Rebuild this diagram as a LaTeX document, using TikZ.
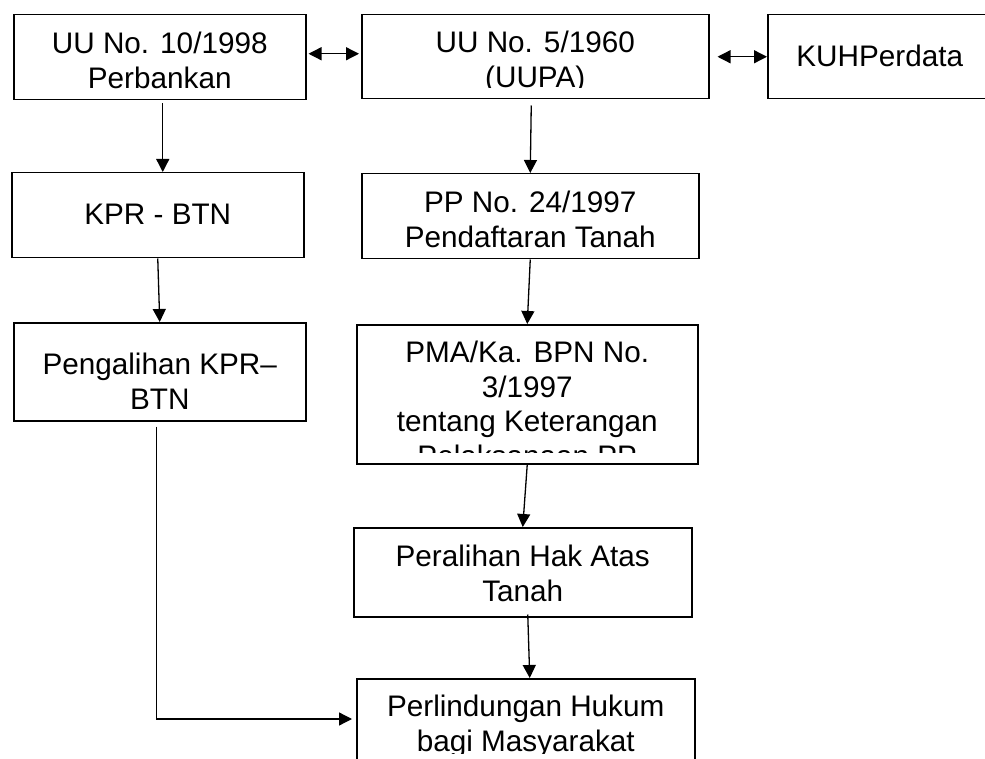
\documentclass[tikz,border=0pt]{standalone}
\usepackage{fontspec}
\setmainfont{Liberation Sans}
\usetikzlibrary{calc, arrows.meta}

\tikzset{
  >={Triangle[length=13pt, width=13pt]},
  lawbox/.style 2 args={draw, line width=1.5pt, inner sep=0pt, anchor=north west,
    minimum width=#1, minimum height=#2},
  boxtext/.style={align=center, anchor=base, inner sep=0pt,
    font=\fontsize{29.7}{34.5}\selectfont},
  link/.style={line width=1.3pt},
}

% text of a box (#3 = baseline of its last line below the top, #1 = shift right),
% cut off 11pt above the lower edge
\newcommand{\boxtext}[4][0]{%
  \clip ($(path picture bounding box.south west)+(0pt,11pt)$)
    rectangle (path picture bounding box.north east);
  \node[boxtext] (#2) at ($(path picture bounding box.north)+(#1pt,-#3pt)$) {#4};}

\begin{document}
\begin{tikzpicture}[x=1pt, y=-1pt]
  \useasboundingbox (0,0) rectangle (985,759);
  \clip (0,0) rectangle (985,759);

  \node[lawbox={292}{85}, path picture={\boxtext{uu10text}{73.5}{UU No. 10/1998\\Perbankan}}] (uu10) at (13,14) {};
  \node[lawbox={347}{84}, path picture={\boxtext{uu5text}{72.5}{UU No. 5/1960\\(UUPA)}}] (uu5) at (361,14) {};
  \node[lawbox={300}{84}, path picture={\boxtext[-38]{kuhtext}{52}{KUHPerdata}}] (kuh) at (767,14) {};

  \node[lawbox={292}{85}, path picture={\boxtext{kprtext}{52}{KPR - BTN}}] (kpr) at (11,172) {};
  \node[lawbox={337}{85}, path picture={\boxtext{pptext}{73.5}{PP No. 24/1997\\Pendaftaran Tanah}}] (pp) at (361,173) {};

  \node[lawbox={292}{98}, path picture={\boxtext{pengtext}{86.5}{Pengalihan KPR--\\BTN}}] (peng) at (13,322) {};
  \node[lawbox={341}{139}, path picture={\boxtext{pmatext}{141.5}{PMA/Ka. BPN No.\\3/1997\\tentang Keterangan\\Pelaksanaan PP}}] (pma) at (356,324) {};

  \node[lawbox={338}{89}, path picture={\boxtext{peraltext}{73.5}{Peralihan Hak Atas\\Tanah}}] (peral) at (353,527) {};
  \node[lawbox={338}{86}, path picture={\boxtext{perltext}{72.5}{Perlindungan Hukum\\bagi Masyarakat}}] (perl) at (356,678) {};

  \draw[link, <->, shorten <=2pt, shorten >=2pt] ($(uu10.east)+(0,-3.5)$) -- ($(uu10.east -| uu5.west)+(0,-3.5)$);
  \draw[link, <->, shorten <=8pt] (uu5.east) -- (uu5.east -| kuh.west);

  \draw[link, ->] ($(uu10.south)+(3,3)$) -- ($(uu10.south |- kpr.north)+(3,0)$);
  \draw[link, ->] ($(uu5.south)+(-4,6)$) -- (pp.north);
  \draw[link, ->] (kpr.south) -- (peng.north);
  \draw[link, ->] (pp.south) -- (pma.north);
  \draw[link, ->] (pma.south) -- (peral.north);
  \draw[link, ->] ($(peral.south)+(5,-3)$) -- ($(perl.north)+(4,0)$);
  \draw[link, ->] ($(peng.south)+(-3,5)$) |- ($(perl.north west)+(-4,41)$);
\end{tikzpicture}
\end{document}
